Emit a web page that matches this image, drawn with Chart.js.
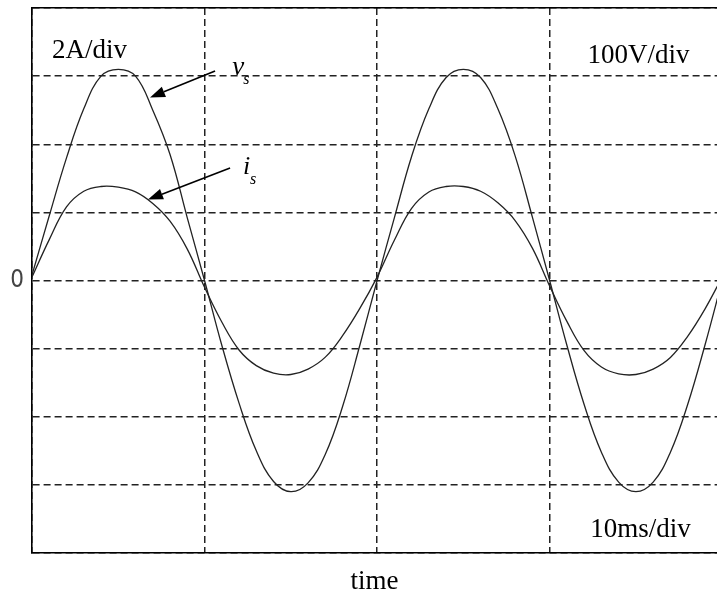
<!DOCTYPE html>
<html><head><meta charset="utf-8">
<script src="https://cdn.jsdelivr.net/npm/chart.js@4.4.1/dist/chart.umd.min.js"></script>
<style>html,body{margin:0;padding:0;background:#fff;overflow:hidden}#wrap{position:relative;width:717px;height:595px}</style>
</head><body><div id="wrap"><canvas id="c"></canvas></div>
<script>
// time in ms (10 ms/div)
const timeMs = [0,1,2,3,4,5,6,7,8,9,10,11,12,13,14,15,16,17,18,19,20,21,22,23,24,25,26,27,28,29,30,31,32,33,34,35,36,37,38,39,40];
// supply voltage v_s in volts (100 V/div)
const vsVolts = [8,95,180,252,300,310,300,250,185,92,0,-95,-180,-250,-295,-310,-297,-255,-185,-95,0,92,182,252,298,310,298,252,183,93,0,-95,-182,-252,-296,-310,-296,-252,-182,-95,0];
// supply current i_s in amperes (2 A/div)
const isAmps = [0.1,1.2,2.16,2.62,2.76,2.74,2.6,2.26,1.74,0.92,-0.2,-1.22,-2.04,-2.5,-2.72,-2.76,-2.6,-2.25,-1.62,-0.82,0.1,1.18,2.12,2.6,2.76,2.76,2.62,2.28,1.76,0.95,-0.16,-1.2,-2.06,-2.54,-2.74,-2.76,-2.6,-2.26,-1.64,-0.84,0.1];
// y tick labels shown (only zero)
const yTickValues = [0];
const yTickLabels = ['0'];

const serif = "'Liberation Serif','Times New Roman',serif";

const notes = [
  {text:'2A/div', t:1.16, v:326, size:27},
  {text:'100V/div', t:32.2, v:319, size:27},
  {text:'10ms/div', t:32.35, v:-376, size:27},
  {text:'v', t:11.6, v:301.7, size:27, italic:true},
  {text:'s', t:12.25, v:288, size:16, italic:true},
  {text:'i', t:12.23, v:156, size:26, italic:true},
  {text:'s', t:12.64, v:141.7, size:16, italic:true}
];
const arrows = [
  {from:[10.61,307.5], to:[6.84,268.6]},
  {from:[11.48,165], to:[6.72,118.9]}
];

const annotate = {
  id:'annotate',
  afterDatasetsDraw(chart){
    const ctx = chart.ctx, xs = chart.scales.x, ys = chart.scales.y;
    ctx.save();
    ctx.fillStyle = '#000';
    ctx.textBaseline = 'alphabetic';
    ctx.textAlign = 'left';
    notes.forEach(n=>{
      ctx.font = (n.italic?'italic ':'') + n.size + 'px ' + serif;
      ctx.fillText(n.text, xs.getPixelForValue(n.t), ys.getPixelForValue(n.v));
    });
    ctx.strokeStyle = '#000';
    ctx.lineWidth = 1.6;
    arrows.forEach(a=>{
      const x1 = xs.getPixelForValue(a.from[0]), y1 = ys.getPixelForValue(a.from[1]);
      const x2 = xs.getPixelForValue(a.to[0]), y2 = ys.getPixelForValue(a.to[1]);
      const ang = Math.atan2(y2-y1, x2-x1);
      const L = 15, W = 5.5;
      const bx = x2 - L*Math.cos(ang), by = y2 - L*Math.sin(ang);
      ctx.beginPath(); ctx.moveTo(x1,y1); ctx.lineTo(bx,by); ctx.stroke();
      ctx.beginPath();
      ctx.moveTo(x2,y2);
      ctx.lineTo(bx + W*Math.sin(ang), by - W*Math.cos(ang));
      ctx.lineTo(bx - W*Math.sin(ang), by + W*Math.cos(ang));
      ctx.closePath(); ctx.fill();
    });
    ctx.restore();
  }
};

new Chart(document.getElementById('c'), {
  type:'line',
  data:{
    datasets:[
      {label:'v_s', data: timeMs.map((t,i)=>({x:t,y:vsVolts[i]})), yAxisID:'y', borderColor:'#222', borderWidth:1.3, pointRadius:0, tension:0.4, fill:false},
      {label:'i_s', data: timeMs.map((t,i)=>({x:t,y:isAmps[i]})), yAxisID:'yA', borderColor:'#222', borderWidth:1.3, pointRadius:0, tension:0.4, fill:false}
    ]
  },
  options:{
    responsive:true, maintainAspectRatio:false, animation:false, devicePixelRatio:1,
    layout:{padding:{top:8,right:0,bottom:0,left:0}},
    plugins:{legend:{display:false}, tooltip:{enabled:false}},
    scales:{
      x:{type:'linear', position:'bottom', min:0, max:39.7,
        ticks:{display:false, stepSize:10, includeBounds:false},
        grid:{color:'#222', lineWidth:1.5, drawTicks:false},
        border:{display:true, color:'#000', width:1.6, dash:[7,4]},
        title:{display:true, text:'time', color:'#000', font:{family:serif, size:27, lineHeight:1}, padding:{top:0,bottom:0}},
        afterFit(s){ s.height = 42; s.paddingLeft = 0; s.paddingRight = 0; }
      },
      xTop:{type:'linear', position:'top', min:0, max:39.7,
        ticks:{display:false}, grid:{display:false, drawTicks:false},
        border:{display:true, color:'#000', width:1.6},
        afterFit(s){ s.height = 0; s.paddingLeft = 0; s.paddingRight = 0; }
      },
      y:{position:'left', min:-400, max:400,
        ticks:{stepSize:100, autoSkip:false, padding:8, color:'#444',
          font:{family:"'Liberation Sans Narrow','DejaVu Sans Condensed','Liberation Sans',sans-serif", size:24},
          callback:(v)=>{ const k = yTickValues.indexOf(v); return k>=0 ? yTickLabels[k] : ''; }},
        grid:{color:'#222', lineWidth:1.5, drawTicks:false},
        border:{display:true, color:'#000', width:1.6, dash:[7,4]},
        afterFit(s){ s.width = 32; s.paddingTop = 0; s.paddingBottom = 0; }
      },
      yA:{position:'right', display:false, min:-8, max:8}
    }
  },
  plugins:[annotate]
});
</script>
</body></html>
